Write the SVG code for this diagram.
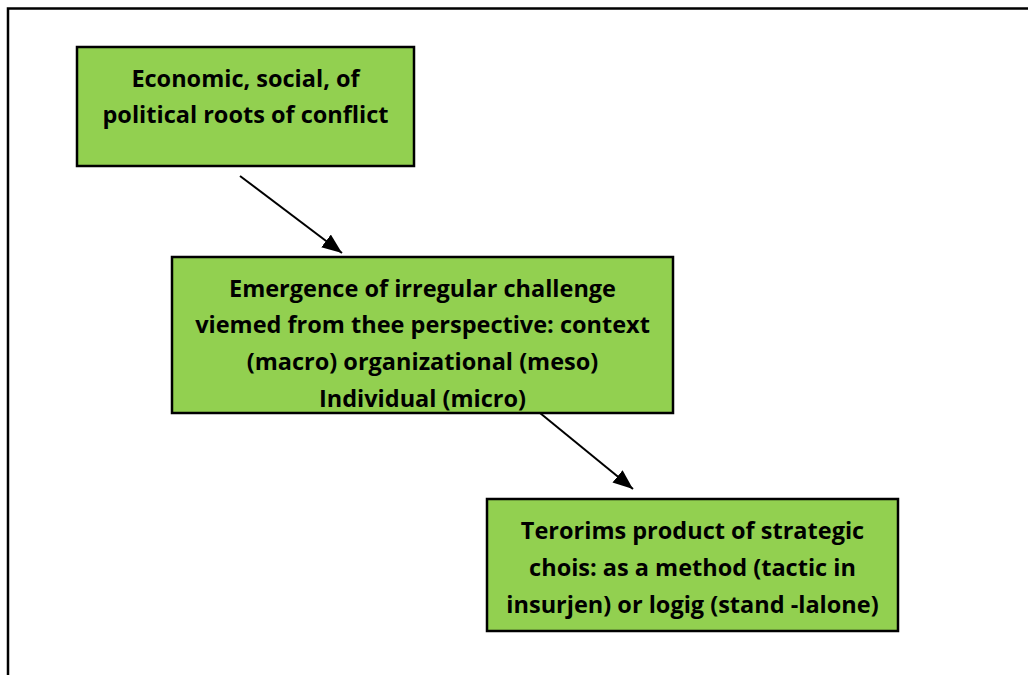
<svg xmlns="http://www.w3.org/2000/svg" width="1028" height="675" viewBox="0 0 1028 675">
<defs>
<style>
.box{fill:#92D050;stroke:#000;stroke-width:2.5}
.t{font-family:"Open Sans","Liberation Sans",sans-serif;font-weight:700;font-size:23.5px;fill:#000;text-anchor:middle}
.c{stroke:#000;stroke-width:2;fill:none}
</style>
<marker id="arrow" viewBox="0 0 20 16" refX="20" refY="8" markerWidth="20" markerHeight="16" markerUnits="userSpaceOnUse" orient="auto">
<path d="M0,0 L20,8 L0,16 z" fill="#000"/>
</marker>
</defs>
<rect width="1028" height="675" fill="#fff"/>
<g id="frame">
<path d="M8,675 L8,8.5 L1028,8.5" fill="none" stroke="#000" stroke-width="2.5"/>
</g>
<g id="connectors">
<line class="c" x1="240" y1="176" x2="342" y2="253" marker-end="url(#arrow)"/>
<line class="c" x1="540" y1="413" x2="633" y2="489" marker-end="url(#arrow)"/>
</g>
<g id="node1">
<rect class="box" x="77" y="47" width="337" height="119"/>
<text class="t" x="245.5" y="87">Economic, social, of</text>
<text class="t" x="245.5" y="123">political roots of conflict</text>
</g>
<g id="node2">
<rect class="box" x="172" y="257" width="501" height="156"/>
<text class="t" x="422.5" y="297">Emergence of irregular challenge</text>
<text class="t" x="422.5" y="333">viemed from thee perspective: context</text>
<text class="t" x="422.5" y="369.5">(macro) organizational (meso)</text>
<text class="t" x="422.5" y="406.5">Individual (micro)</text>
</g>
<g id="node3">
<rect class="box" x="487" y="499" width="411" height="132"/>
<text class="t" x="692.5" y="538.5">Terorims product of strategic</text>
<text class="t" x="692.5" y="576">chois: as a method (tactic in</text>
<text class="t" x="692.5" y="613">insurjen) or logig (stand -lalone)</text>
</g>
</svg>
